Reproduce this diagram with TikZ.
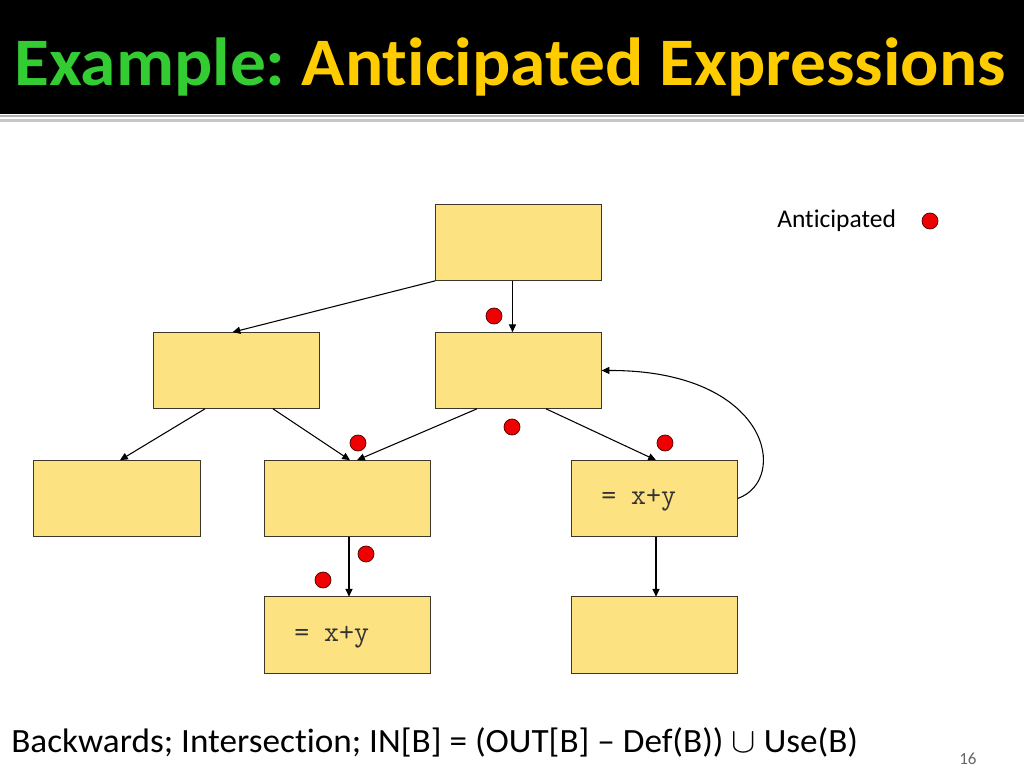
\documentclass[tikz,border=0pt]{standalone}
\usepackage{fontspec}
\setmainfont{Carlito}[Ligatures=NoCommon]
\usepackage{xcolor}
\definecolor{titleGreen}{RGB}{51, 204, 51}
\definecolor{titleGold}{RGB}{255, 204, 0}
\definecolor{blockFill}{RGB}{253, 226, 129}
\definecolor{blockLine}{RGB}{60, 55, 40}
\definecolor{dotRed}{RGB}{240, 0, 0}
\usetikzlibrary{positioning,arrows.meta,calc}
\frenchspacing

\begin{document}
\begin{tikzpicture}[
  x=0.024805cm, y=-0.024805cm,
  block/.style={draw=blockLine, fill=blockFill, line width=0.7pt, rectangle,
                minimum width=117.4pt, minimum height=54.1pt, inner sep=0pt, outer sep=0pt},
  code/.style={font=\ttfamily\fontsize{20.5}{22}\selectfont, text=black!80, inner sep=0pt},
  dot/.style={draw=black!70!red, fill=dotRed, circle, line width=0.5pt,
              minimum size=11.3pt, inner sep=0pt},
  arr/.style={-{Triangle[length=5.5pt, width=5pt]}, line width=0.75pt}
]
\useasboundingbox (0,0) rectangle (1024,768);

% title bar
\fill[black] (0,0) rectangle (1024,113.5);
\draw[black!30, line width=1.5pt] (0,116) -- (1024,116);
\draw[black!22, line width=2pt] (0,120.5) -- (1024,120.5);
\node[anchor=base west, inner sep=0pt, font=\bfseries\fontsize{48}{52}\selectfont] (title) at (14,85)
  {\scalebox{1.05}[1]{\textcolor{titleGreen}{Example:} \textcolor{titleGold}{Anticipated Expressions}}};

% flow graph blocks
\node[block] (b1) at (518.5, 242.5) {};
\node[block] (b2) at (236.5, 370.5) {};
\node[block] (b3) at (518.5, 370.5) {};
\node[block] (b4) at (117,   498.5) {};
\node[block] (b5) at (347.5, 498.5) {};
\node[block] (b6) at (654.5, 498.5) {};
\node[block] (b7) at (347.5, 635)   {};
\node[block] (b8) at (654.5, 635)   {};

\node[code, anchor=west] (e6) at (601, 500) {= x+y};
\node[code, anchor=west] (e7) at (294, 637) {= x+y};

% edges
\draw[arr] (b1.south west) -- ($(b2.north)+(-4,0)$);
\draw[arr] ($(b1.south)+(-6,0)$) -- ($(b3.north)+(-6,0)$);
\draw[arr] ($(b2.south)+(-31.5,0)$) -- ($(b4.north)+(3,0)$);
\draw[arr] ($(b2.south)+(36.5,0)$) -- ($(b5.north)+(2.5,0)$);
\draw[arr] ($(b3.south)+(-41.5,0)$) -- ($(b5.north)+(9.5,0)$);
\draw[arr] ($(b3.south)+(27.5,0)$) -- ($(b6.north)+(1.5,0)$);
\draw[arr] ($(b5.south)+(1.5,0)$) -- ($(b7.north)+(1.5,0)$);
\draw[arr] ($(b6.south)+(1.5,0)$) -- ($(b8.north)+(1.5,0)$);
\draw[arr] (b6.east) .. controls (790,480) and (770,370) .. (b3.east);

% anticipated points
\node[dot] (d1) at (494, 316) {};
\node[dot] (d2) at (512, 427) {};
\node[dot] (d3) at (358, 443) {};
\node[dot] (d4) at (665, 443) {};
\node[dot] (d5) at (366, 554) {};
\node[dot] (d6) at (323, 580) {};

% legend
\node[anchor=west, inner sep=0pt, font=\fontsize{18}{20}\selectfont] (legend) at (777, 221) {Anticipated};
\node[dot] (legdot) at (930, 221) {};

% footer
\node[anchor=base west, inner sep=0pt, font=\fontsize{24}{28}\selectfont] (rule) at (11, 752)
  {\scalebox{1.035}[1]{Backwards; Intersection; IN[B] = (OUT[B] -- Def(B)) $\cup$ Use(B)}};
\node[anchor=base west, inner sep=0pt, font=\fontsize{12}{14}\selectfont, text=black!60] (page) at (959, 764) {16};
\end{tikzpicture}
\end{document}
